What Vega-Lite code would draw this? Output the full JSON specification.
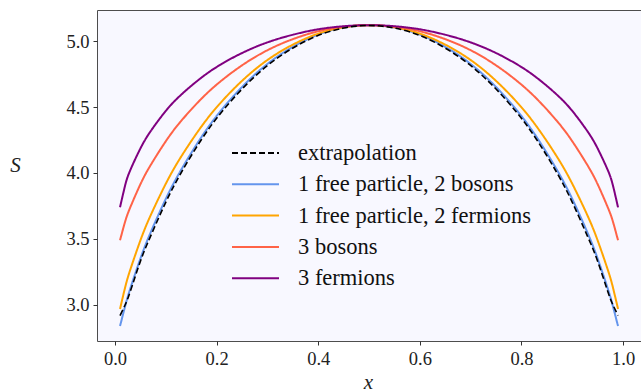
{
  "$schema": "https://vega.github.io/schema/vega-lite/v6.json",
  "width": 544,
  "height": 331,
  "autosize": {"type": "none"},
  "padding": {"left": 97, "top": 10, "right": 0, "bottom": 51},
  "background": "white",
  "config": {
    "font": "Liberation Serif",
    "view": {"fill": "#F8F8FF", "stroke": "#4d4d4d", "strokeWidth": 1},
    "axis": {"grid": false, "domain": false, "tickColor": "#333", "tickSize": 4, "labelPadding": 4,
      "labelFont": "Liberation Serif", "labelFontSize": 18.5, "labelColor": "#222",
      "titleFont": "Liberation Serif", "titleFontStyle": "italic", "titleFontWeight": "normal", "titleFontSize": 21, "titleColor": "#222"},
    "legend": {"labelFont": "Liberation Serif"}
  },
  "data": {"values": [
    {"x":0.01,"S":2.840,"series":"1 free particle, 2 bosons"},
    {"x":0.02,"S":2.990,"series":"1 free particle, 2 bosons"},
    {"x":0.03,"S":3.122,"series":"1 free particle, 2 bosons"},
    {"x":0.05,"S":3.350,"series":"1 free particle, 2 bosons"},
    {"x":0.07,"S":3.547,"series":"1 free particle, 2 bosons"},
    {"x":0.10,"S":3.803,"series":"1 free particle, 2 bosons"},
    {"x":0.13,"S":4.022,"series":"1 free particle, 2 bosons"},
    {"x":0.17,"S":4.271,"series":"1 free particle, 2 bosons"},
    {"x":0.21,"S":4.479,"series":"1 free particle, 2 bosons"},
    {"x":0.26,"S":4.690,"series":"1 free particle, 2 bosons"},
    {"x":0.32,"S":4.883,"series":"1 free particle, 2 bosons"},
    {"x":0.39,"S":5.033,"series":"1 free particle, 2 bosons"},
    {"x":0.45,"S":5.102,"series":"1 free particle, 2 bosons"},
    {"x":0.50,"S":5.120,"series":"1 free particle, 2 bosons"},
    {"x":0.55,"S":5.102,"series":"1 free particle, 2 bosons"},
    {"x":0.61,"S":5.033,"series":"1 free particle, 2 bosons"},
    {"x":0.68,"S":4.883,"series":"1 free particle, 2 bosons"},
    {"x":0.74,"S":4.690,"series":"1 free particle, 2 bosons"},
    {"x":0.79,"S":4.479,"series":"1 free particle, 2 bosons"},
    {"x":0.83,"S":4.271,"series":"1 free particle, 2 bosons"},
    {"x":0.87,"S":4.022,"series":"1 free particle, 2 bosons"},
    {"x":0.90,"S":3.803,"series":"1 free particle, 2 bosons"},
    {"x":0.93,"S":3.547,"series":"1 free particle, 2 bosons"},
    {"x":0.95,"S":3.350,"series":"1 free particle, 2 bosons"},
    {"x":0.97,"S":3.122,"series":"1 free particle, 2 bosons"},
    {"x":0.98,"S":2.990,"series":"1 free particle, 2 bosons"},
    {"x":0.99,"S":2.840,"series":"1 free particle, 2 bosons"},

    {"x":0.01,"S":2.970,"series":"1 free particle, 2 fermions"},
    {"x":0.02,"S":3.132,"series":"1 free particle, 2 fermions"},
    {"x":0.03,"S":3.265,"series":"1 free particle, 2 fermions"},
    {"x":0.05,"S":3.488,"series":"1 free particle, 2 fermions"},
    {"x":0.07,"S":3.677,"series":"1 free particle, 2 fermions"},
    {"x":0.10,"S":3.918,"series":"1 free particle, 2 fermions"},
    {"x":0.13,"S":4.122,"series":"1 free particle, 2 fermions"},
    {"x":0.17,"S":4.351,"series":"1 free particle, 2 fermions"},
    {"x":0.21,"S":4.541,"series":"1 free particle, 2 fermions"},
    {"x":0.26,"S":4.733,"series":"1 free particle, 2 fermions"},
    {"x":0.32,"S":4.907,"series":"1 free particle, 2 fermions"},
    {"x":0.39,"S":5.042,"series":"1 free particle, 2 fermions"},
    {"x":0.45,"S":5.104,"series":"1 free particle, 2 fermions"},
    {"x":0.50,"S":5.120,"series":"1 free particle, 2 fermions"},
    {"x":0.55,"S":5.104,"series":"1 free particle, 2 fermions"},
    {"x":0.61,"S":5.042,"series":"1 free particle, 2 fermions"},
    {"x":0.68,"S":4.907,"series":"1 free particle, 2 fermions"},
    {"x":0.74,"S":4.733,"series":"1 free particle, 2 fermions"},
    {"x":0.79,"S":4.541,"series":"1 free particle, 2 fermions"},
    {"x":0.83,"S":4.351,"series":"1 free particle, 2 fermions"},
    {"x":0.87,"S":4.122,"series":"1 free particle, 2 fermions"},
    {"x":0.90,"S":3.918,"series":"1 free particle, 2 fermions"},
    {"x":0.93,"S":3.677,"series":"1 free particle, 2 fermions"},
    {"x":0.95,"S":3.488,"series":"1 free particle, 2 fermions"},
    {"x":0.97,"S":3.265,"series":"1 free particle, 2 fermions"},
    {"x":0.98,"S":3.132,"series":"1 free particle, 2 fermions"},
    {"x":0.99,"S":2.970,"series":"1 free particle, 2 fermions"},

    {"x":0.01,"S":3.490,"series":"3 bosons"},
    {"x":0.02,"S":3.631,"series":"3 bosons"},
    {"x":0.03,"S":3.738,"series":"3 bosons"},
    {"x":0.05,"S":3.914,"series":"3 bosons"},
    {"x":0.07,"S":4.058,"series":"3 bosons"},
    {"x":0.10,"S":4.240,"series":"3 bosons"},
    {"x":0.13,"S":4.393,"series":"3 bosons"},
    {"x":0.17,"S":4.562,"series":"3 bosons"},
    {"x":0.21,"S":4.701,"series":"3 bosons"},
    {"x":0.26,"S":4.841,"series":"3 bosons"},
    {"x":0.32,"S":4.967,"series":"3 bosons"},
    {"x":0.39,"S":5.064,"series":"3 bosons"},
    {"x":0.45,"S":5.108,"series":"3 bosons"},
    {"x":0.50,"S":5.120,"series":"3 bosons"},
    {"x":0.55,"S":5.108,"series":"3 bosons"},
    {"x":0.61,"S":5.064,"series":"3 bosons"},
    {"x":0.68,"S":4.967,"series":"3 bosons"},
    {"x":0.74,"S":4.841,"series":"3 bosons"},
    {"x":0.79,"S":4.701,"series":"3 bosons"},
    {"x":0.83,"S":4.562,"series":"3 bosons"},
    {"x":0.87,"S":4.393,"series":"3 bosons"},
    {"x":0.90,"S":4.240,"series":"3 bosons"},
    {"x":0.93,"S":4.058,"series":"3 bosons"},
    {"x":0.95,"S":3.914,"series":"3 bosons"},
    {"x":0.97,"S":3.738,"series":"3 bosons"},
    {"x":0.98,"S":3.631,"series":"3 bosons"},
    {"x":0.99,"S":3.490,"series":"3 bosons"},

    {"x":0.01,"S":3.740,"series":"3 fermions"},
    {"x":0.02,"S":3.905,"series":"3 fermions"},
    {"x":0.03,"S":4.020,"series":"3 fermions"},
    {"x":0.05,"S":4.185,"series":"3 fermions"},
    {"x":0.07,"S":4.315,"series":"3 fermions"},
    {"x":0.10,"S":4.470,"series":"3 fermions"},
    {"x":0.13,"S":4.592,"series":"3 fermions"},
    {"x":0.17,"S":4.722,"series":"3 fermions"},
    {"x":0.21,"S":4.826,"series":"3 fermions"},
    {"x":0.26,"S":4.927,"series":"3 fermions"},
    {"x":0.32,"S":5.015,"series":"3 fermions"},
    {"x":0.39,"S":5.082,"series":"3 fermions"},
    {"x":0.45,"S":5.112,"series":"3 fermions"},
    {"x":0.50,"S":5.120,"series":"3 fermions"},
    {"x":0.55,"S":5.112,"series":"3 fermions"},
    {"x":0.61,"S":5.082,"series":"3 fermions"},
    {"x":0.68,"S":5.015,"series":"3 fermions"},
    {"x":0.74,"S":4.927,"series":"3 fermions"},
    {"x":0.79,"S":4.826,"series":"3 fermions"},
    {"x":0.83,"S":4.722,"series":"3 fermions"},
    {"x":0.87,"S":4.592,"series":"3 fermions"},
    {"x":0.90,"S":4.470,"series":"3 fermions"},
    {"x":0.93,"S":4.315,"series":"3 fermions"},
    {"x":0.95,"S":4.185,"series":"3 fermions"},
    {"x":0.97,"S":4.020,"series":"3 fermions"},
    {"x":0.98,"S":3.905,"series":"3 fermions"},
    {"x":0.99,"S":3.740,"series":"3 fermions"},

    {"x":0.01,"S":2.920,"series":"extrapolation"},
    {"x":0.02,"S":3.000,"series":"extrapolation"},
    {"x":0.03,"S":3.100,"series":"extrapolation"},
    {"x":0.05,"S":3.330,"series":"extrapolation"},
    {"x":0.07,"S":3.520,"series":"extrapolation"},
    {"x":0.10,"S":3.778,"series":"extrapolation"},
    {"x":0.13,"S":4.000,"series":"extrapolation"},
    {"x":0.17,"S":4.252,"series":"extrapolation"},
    {"x":0.21,"S":4.462,"series":"extrapolation"},
    {"x":0.26,"S":4.675,"series":"extrapolation"},
    {"x":0.32,"S":4.872,"series":"extrapolation"},
    {"x":0.39,"S":5.026,"series":"extrapolation"},
    {"x":0.45,"S":5.098,"series":"extrapolation"},
    {"x":0.50,"S":5.118,"series":"extrapolation"},
    {"x":0.55,"S":5.098,"series":"extrapolation"},
    {"x":0.61,"S":5.026,"series":"extrapolation"},
    {"x":0.68,"S":4.872,"series":"extrapolation"},
    {"x":0.74,"S":4.675,"series":"extrapolation"},
    {"x":0.79,"S":4.462,"series":"extrapolation"},
    {"x":0.83,"S":4.252,"series":"extrapolation"},
    {"x":0.87,"S":4.000,"series":"extrapolation"},
    {"x":0.90,"S":3.778,"series":"extrapolation"},
    {"x":0.93,"S":3.520,"series":"extrapolation"},
    {"x":0.95,"S":3.330,"series":"extrapolation"},
    {"x":0.97,"S":3.100,"series":"extrapolation"},
    {"x":0.98,"S":3.000,"series":"extrapolation"},
    {"x":0.99,"S":2.920,"series":"extrapolation"}
  ]},
  "encoding": {
    "x": {"field": "x", "type": "quantitative",
      "scale": {"domain": [-0.0353, 1.0352], "nice": false, "zero": false},
      "axis": {"values": [0, 0.2, 0.4, 0.6, 0.8, 1.0], "format": ".1f", "title": "x",
        "titleX": 271, "titleY": 47, "titleBaseline": "alphabetic", "titleAlign": "center"}},
    "y": {"field": "S", "type": "quantitative",
      "scale": {"domain": [2.727, 5.235], "nice": false, "zero": false},
      "axis": {"values": [3.0, 3.5, 4.0, 4.5, 5.0], "format": ".1f", "title": "S",
        "titleAngle": 0, "titleX": -82, "titleY": 155, "titleAlign": "center", "titleBaseline": "middle"}},
    "color": {"field": "series", "type": "nominal",
      "scale": {"domain": ["extrapolation", "1 free particle, 2 bosons", "1 free particle, 2 fermions", "3 bosons", "3 fermions"],
        "range": ["#000000", "#6495ED", "#FFA500", "#FF6347", "#800080"]},
      "legend": {"title": null, "orient": "none", "legendX": 145.5, "legendY": 130, "padding": 0,
        "symbolType": "M-2,0H2", "symbolSize": 552, "symbolStrokeWidth": 2,
        "labelFontSize": 22.5, "labelColor": "#111", "labelOffset": 29.5,
        "rowPadding": 6.3, "labelLimit": 400}},
    "strokeDash": {"field": "series", "type": "nominal",
      "scale": {"domain": ["extrapolation", "1 free particle, 2 bosons", "1 free particle, 2 fermions", "3 bosons", "3 fermions"],
        "range": [[6, 3], [1, 0], [1, 0], [1, 0], [1, 0]]},
      "legend": {"title": null, "orient": "none", "legendX": 145.5, "legendY": 130, "padding": 0,
        "symbolType": "M-2,0H2", "symbolSize": 552, "symbolStrokeWidth": 2,
        "labelFontSize": 22.5, "labelColor": "#111", "labelOffset": 29.5,
        "rowPadding": 6.3, "labelLimit": 400}}
  },
  "layer": [
    {"transform": [{"filter": "datum.series != 'extrapolation'"}],
     "mark": {"type": "line", "interpolate": "natural", "strokeWidth": 2, "clip": true}},
    {"transform": [{"filter": "datum.series == 'extrapolation'"}],
     "mark": {"type": "line", "interpolate": "natural", "strokeWidth": 1.6, "clip": true}}
  ]
}
